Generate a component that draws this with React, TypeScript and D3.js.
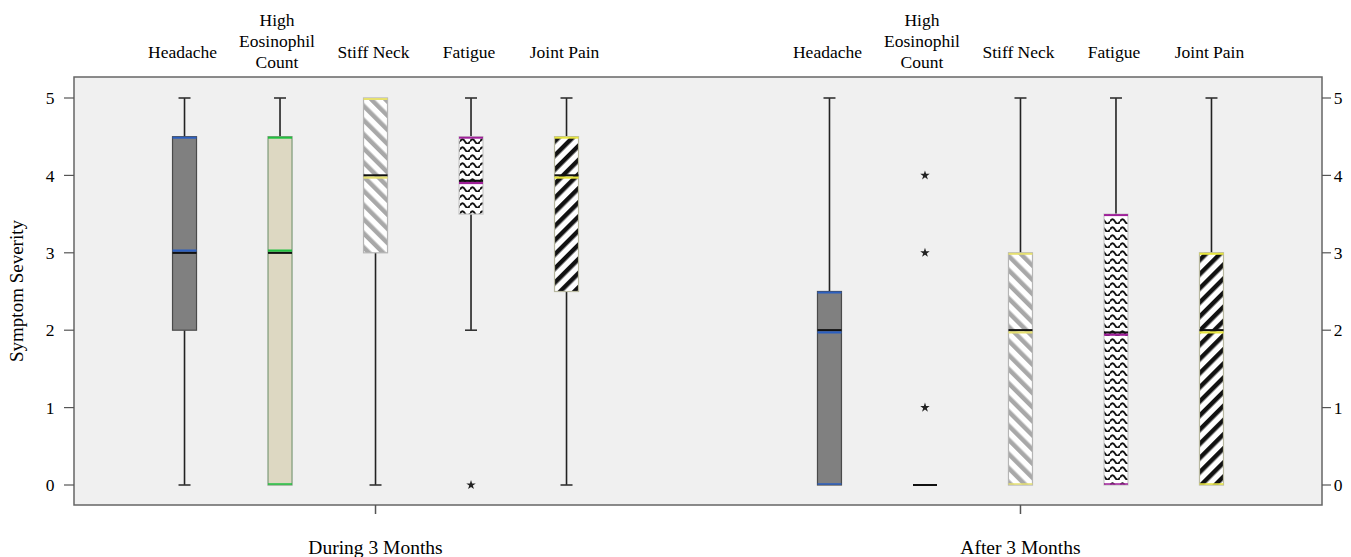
import React from "react";
import * as d3 from "d3";

// groups and symptoms
const groups = ["During 3 Months", "After 3 Months"];
const symptoms = ["Headache", "High Eosinophil Count", "Stiff Neck", "Fatigue", "Joint Pain"];
const symptomLines = [["Headache"], ["High", "Eosinophil", "Count"], ["Stiff Neck"], ["Fatigue"], ["Joint Pain"]];
const yTicks = [0, 1, 2, 3, 4, 5];

// box stats per symptom: [min, q1, median, q3, max]
const duringStats = [
  [0, 2, 3, 4.5, 5],
  [0, 0, 3, 4.5, 5],
  [0, 3, 4, 5, 5],
  [2, 3.5, 3.93, 4.5, 5],
  [0, 2.5, 4, 4.5, 5],
];
const afterStats = [
  [0, 0, 2, 2.5, 5],
  [0, 0, 0, 0, 0],
  [0, 0, 2, 3, 5],
  [0, 0, 1.97, 3.5, 5],
  [0, 0, 2, 3, 5],
];
const duringOutliers = [[], [], [], [0], []];
const afterOutliers = [[], [1, 3, 4], [], [], []];

const fills = ["#808080", "#ddd8c2", "url(#hatchGray)", "url(#waves)", "url(#hatchBlack)"];
const borders = ["#4a4a4a", "#7d9a78", "#b5b5b5", "#c8c8c8", "#b8b8a0"];
const accents = ["#2b5fc0", "#20c040", "#e6e070", "#a0209a", "#e8e640"];

const W = 1351;
const H = 557;
const left = 74;
const right = 1322;
const top = 77;
const bottom = 505;

const App = () => {
  const y = d3.scaleLinear().domain([0, 5]).range([485, 98]);
  const x0 = d3.scalePoint<string>().domain(groups).range([left, right]).padding(0.4675);
  const x1 = d3.scalePoint<string>().domain(symptoms).range([-191, 191]);
  const bw = 24;
  const cap = 12;
  const font = "'Liberation Serif', 'Times New Roman', serif";
  const allStats = [duringStats, afterStats];
  const allOut = [duringOutliers, afterOutliers];
  const star = d3.symbol().type(d3.symbolStar).size(28)();

  return (
    <svg width={W} height={H} style={{ position: "absolute", left: 0, top: 0 }} fontFamily={font}>
      <defs>
        <pattern id="hatchGray" width="10" height="10" patternUnits="userSpaceOnUse" patternTransform="rotate(-45)">
          <rect width="10" height="10" fill="#ffffff" />
          <rect width="4.5" height="10" fill="#a8a8a8" />
        </pattern>
        <pattern id="hatchBlack" width="10" height="10" patternUnits="userSpaceOnUse" patternTransform="rotate(45)">
          <rect width="10" height="10" fill="#ffffff" />
          <rect width="4.5" height="10" fill="#111111" />
        </pattern>
        <pattern id="waves" width="10" height="8" patternUnits="userSpaceOnUse">
          <rect width="10" height="8" fill="#ffffff" />
          <path d="M0,5.5 Q2.5,1 5,5.5 T10,5.5" fill="none" stroke="#111" strokeWidth="1.8" />
        </pattern>
      </defs>

      {/* plot frame */}
      <rect x={left} y={top} width={right - left} height={bottom - top} fill="#f0f0f0" stroke="#666" strokeWidth={1.5} />

      {/* y axes */}
      {yTicks.map((t) => (
        <g key={t}>
          <line x1={left - 10} x2={left} y1={y(t)} y2={y(t)} stroke="#555" strokeWidth={1.2} />
          <text x={left - 24} y={y(t)} dy="0.35em" textAnchor="middle" fontSize={17.5}>{t}</text>
          <line x1={right} x2={right + 9} y1={y(t)} y2={y(t)} stroke="#555" strokeWidth={1.2} />
          <text x={right + 16} y={y(t)} dy="0.35em" textAnchor="middle" fontSize={17.5}>{t}</text>
        </g>
      ))}
      <text transform={`translate(23,${(top + bottom) / 2}) rotate(-90)`} textAnchor="middle" fontSize={19}>Symptom Severity</text>

      {groups.map((g, gi) => {
        const gx = x0(g)!;
        return (
          <g key={g}>
            <line x1={gx} x2={gx} y1={bottom} y2={bottom + 9} stroke="#555" strokeWidth={1.5} />
            <text x={gx} y={bottom + 49} textAnchor="middle" fontSize={19.5}>{g}</text>
            {symptoms.map((s, si) => {
              const cx = gx + x1(s)!;
              const [mn, q1, md, q3, mx] = allStats[gi][si];
              const lines = symptomLines[si];
              const labelTop = lines.length === 1 ? 58 : 26;
              return (
                <g key={s}>
                  {lines.map((l, li) => (
                    <text key={l} x={lines.length === 1 ? cx - 2 : cx - 3} y={labelTop + li * 20.8} textAnchor="middle" fontSize={17.5}>{l}</text>
                  ))}
                  {/* whiskers */}
                  {mx > q3 && <line x1={cx} x2={cx} y1={y(mx)} y2={y(q3)} stroke="#222" strokeWidth={1.6} />}
                  {mn < q1 && <line x1={cx} x2={cx} y1={y(q1)} y2={y(mn)} stroke="#222" strokeWidth={1.6} />}
                  {mx > q3 && <line x1={cx - cap / 2} x2={cx + cap / 2} y1={y(mx)} y2={y(mx)} stroke="#333" strokeWidth={1.6} />}
                  {mn < q1 && <line x1={cx - cap / 2} x2={cx + cap / 2} y1={y(mn)} y2={y(mn)} stroke="#333" strokeWidth={1.6} />}
                  {q3 > q1 ? (
                    <g>
                      <rect x={cx - bw / 2} y={y(q3)} width={bw} height={y(q1) - y(q3)} fill={fills[si]} stroke={borders[si]} strokeWidth={1.2} />
                      <line x1={cx - bw / 2} x2={cx + bw / 2} y1={y(q3) + 1} y2={y(q3) + 1} stroke={accents[si]} strokeWidth={2} />
                      {q1 === mn && <line x1={cx - bw / 2} x2={cx + bw / 2} y1={y(q1) - 1} y2={y(q1) - 1} stroke={accents[si]} strokeWidth={1.5} />}
                      <line x1={cx - bw / 2} x2={cx + bw / 2} y1={y(md)} y2={y(md)} stroke="#111" strokeWidth={2.2} />
                      <line x1={cx - bw / 2} x2={cx + bw / 2} y1={y(md) + (gi === 0 && si < 2 ? -2.2 : 2.2)} y2={y(md) + (gi === 0 && si < 2 ? -2.2 : 2.2)} stroke={accents[si]} strokeWidth={2.2} />
                    </g>
                  ) : (
                    <line x1={cx - bw / 2} x2={cx + bw / 2} y1={y(md)} y2={y(md)} stroke="#111" strokeWidth={2} />
                  )}
                  {allOut[gi][si].map((o) => (
                    <path key={o} d={star!} transform={`translate(${cx},${y(o)})`} fill="#222" />
                  ))}
                </g>
              );
            })}
          </g>
        );
      })}
    </svg>
  );
};

export default App;
